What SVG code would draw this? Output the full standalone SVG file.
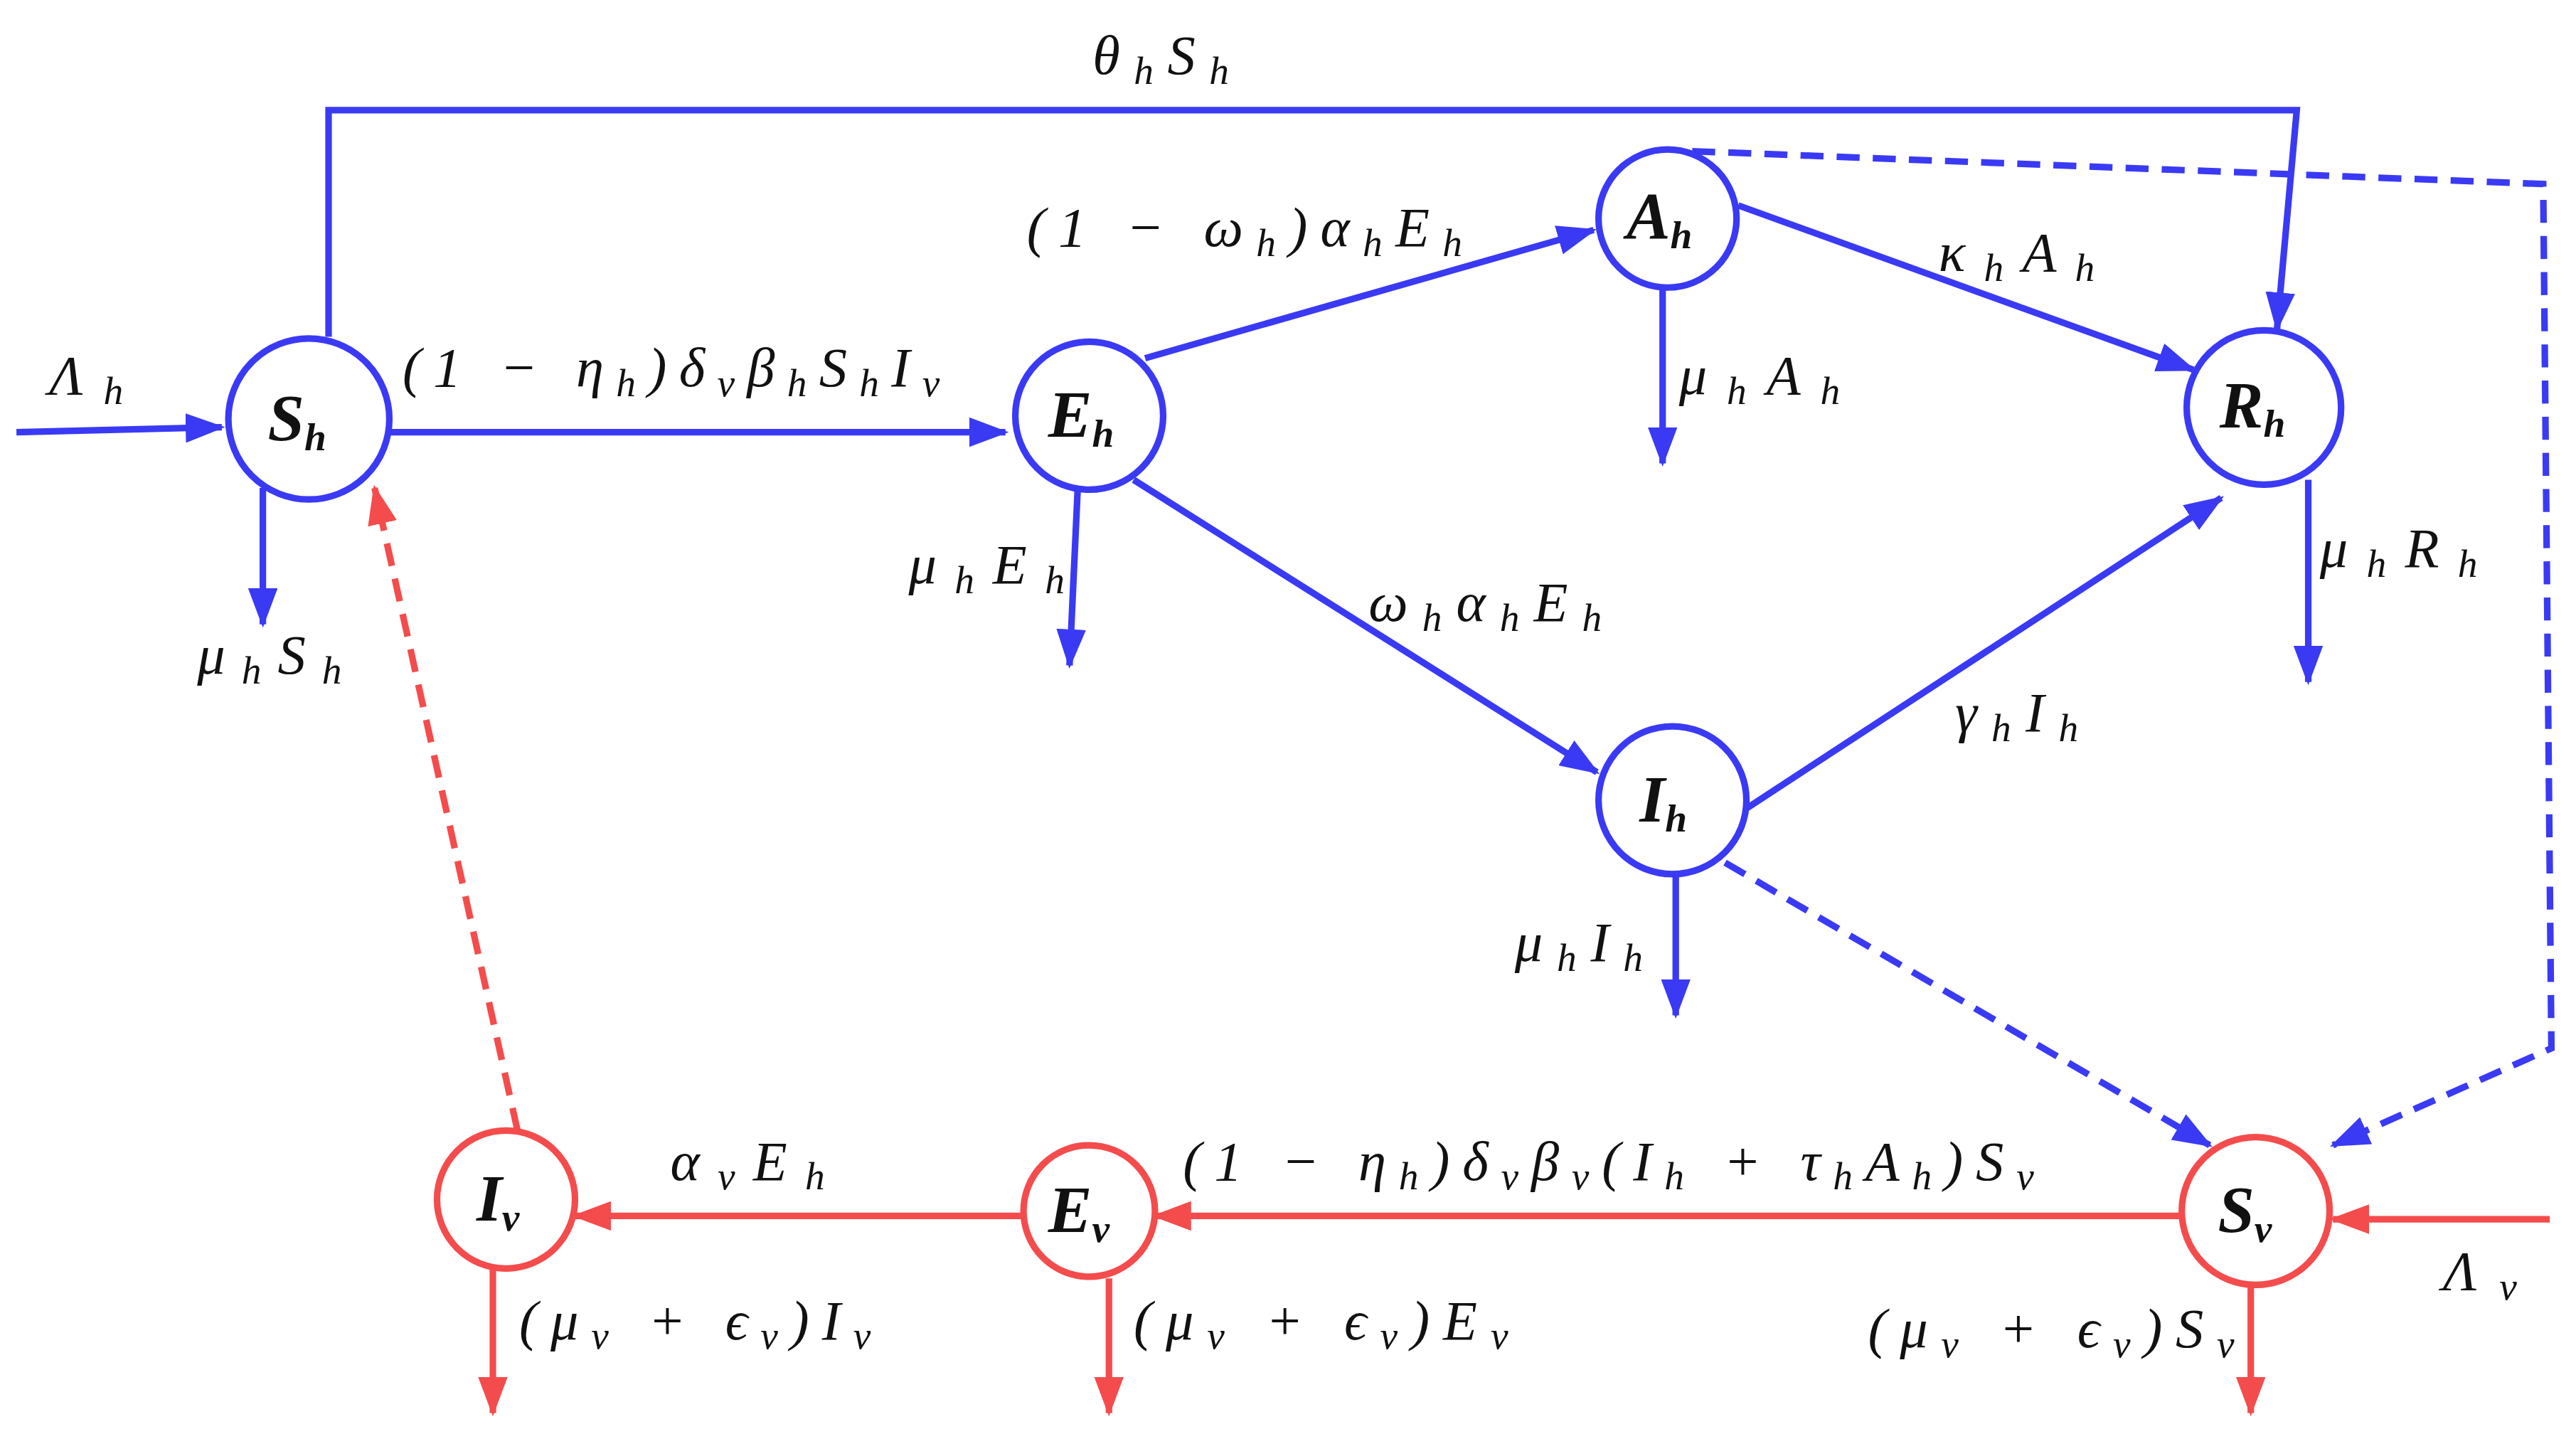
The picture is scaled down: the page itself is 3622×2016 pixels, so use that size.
<svg xmlns="http://www.w3.org/2000/svg" width="3622" height="2016" viewBox="0 0 3622 2016">
<style>
.b{stroke:#3a3af5;fill:none;stroke-width:4}
.r{stroke:#f44c4c;fill:none;stroke-width:4}
.d{stroke-dasharray:14 8}
.n{fill:#fff;stroke-width:4}
text{font-family:"Liberation Serif","DejaVu Serif",serif;font-style:italic;font-size:34px;fill:#111}
.nl{font-weight:bold;font-size:40px}
.s{font-size:24px}
</style>
<defs>
<marker id="ab" markerWidth="24" markerHeight="18" refX="22" refY="9" orient="auto" markerUnits="userSpaceOnUse"><path d="M0,0 L24,9 L0,18 Z" fill="#3a3af5"/></marker>
<marker id="ar" markerWidth="24" markerHeight="18" refX="22" refY="9" orient="auto" markerUnits="userSpaceOnUse"><path d="M0,0 L24,9 L0,18 Z" fill="#f44c4c"/></marker>
</defs>
<rect width="3622" height="2016" fill="#fff"/>
<g transform="scale(2.31)">
<g id="connectors">
<path class="b" marker-end="url(#ab)" d="M10,263 L135,260"/>
<path class="b" marker-end="url(#ab)" d="M238,263 L612,263"/>
<path class="b" marker-end="url(#ab)" d="M200,205 L200,67 L1398,67 L1386,200"/>
<path class="b" marker-end="url(#ab)" d="M160,297 L160,380"/>
<path class="b" marker-end="url(#ab)" d="M697,218 L970,140"/>
<path class="b" marker-end="url(#ab)" d="M656,297 L651,405"/>
<path class="b" marker-end="url(#ab)" d="M690,292 L972,470"/>
<path class="b" marker-end="url(#ab)" d="M1012,176 L1012,282"/>
<path class="b" marker-end="url(#ab)" d="M1058,125 L1335,225"/>
<path class="b" marker-end="url(#ab)" d="M1405,292 L1405,415"/>
<path class="b" marker-end="url(#ab)" d="M1063,492 L1352,303"/>
<path class="b" marker-end="url(#ab)" d="M1020,533 L1020,618"/>
<path class="b d" marker-end="url(#ab)" d="M1050,525 L1345,697"/>
<path class="b d" marker-end="url(#ab)" d="M1030,92 L1548,112 L1553,638 L1420,697"/>
<path class="r" marker-end="url(#ar)" d="M1328,740 L703,740"/>
<path class="r" marker-end="url(#ar)" d="M623,740 L350,740"/>
<path class="r d" marker-end="url(#ar)" d="M315,688 L228,297"/>
<path class="r" marker-end="url(#ar)" d="M1552,742 L1420,742"/>
<path class="r" marker-end="url(#ar)" d="M1370,782 L1370,860"/>
<path class="r" marker-end="url(#ar)" d="M675,778 L675,860"/>
<path class="r" marker-end="url(#ar)" d="M300,772 L300,860"/>
</g>
<g id="Sh"><circle class="n" cx="188" cy="255" r="49" stroke="#3a3af5"/><text class="nl" x="163" y="268">S<tspan class="s" dy="6">h</tspan></text></g>
<g id="Eh"><circle class="n" cx="663" cy="253" r="45" stroke="#3a3af5"/><text class="nl" x="638" y="266">E<tspan class="s" dy="6">h</tspan></text></g>
<g id="Ah"><circle class="n" cx="1015" cy="133" r="42" stroke="#3a3af5"/><text class="nl" x="990" y="145">A<tspan class="s" dy="6">h</tspan></text></g>
<g id="Rh"><circle class="n" cx="1378" cy="248" r="47" stroke="#3a3af5"/><text class="nl" x="1351" y="260">R<tspan class="s" dy="6">h</tspan></text></g>
<g id="Ih"><circle class="n" cx="1018" cy="487" r="45" stroke="#3a3af5"/><text class="nl" x="998" y="500">I<tspan class="s" dy="6">h</tspan></text></g>
<g id="Sv"><circle class="n" cx="1373" cy="737" r="45" stroke="#f44c4c"/><text class="nl" x="1350" y="750">S<tspan class="s" dy="6">v</tspan></text></g>
<g id="Ev"><circle class="n" cx="663" cy="737" r="40" stroke="#f44c4c"/><text class="nl" x="638" y="750">E<tspan class="s" dy="6">v</tspan></text></g>
<g id="Iv"><circle class="n" cx="308" cy="730" r="42" stroke="#f44c4c"/><text class="nl" x="290" y="743">I<tspan class="s" dy="6">v</tspan></text></g>
<g id="labels">
<text x="665" y="45" textLength="83">θ<tspan class="s" dy="6">h</tspan><tspan dy="-6">S</tspan><tspan class="s" dy="6">h</tspan></text>
<text x="30" y="240" textLength="45">Λ<tspan class="s" dy="6">h</tspan></text>
<text x="245" y="235" textLength="327">(1 − η<tspan class="s" dy="6">h</tspan><tspan dy="-6">)δ</tspan><tspan class="s" dy="6">v</tspan><tspan dy="-6">β</tspan><tspan class="s" dy="6">h</tspan><tspan dy="-6">S</tspan><tspan class="s" dy="6">h</tspan><tspan dy="-6">I</tspan><tspan class="s" dy="6">v</tspan></text>
<text x="625" y="150" textLength="265">(1 − ω<tspan class="s" dy="6">h</tspan><tspan dy="-6">)α</tspan><tspan class="s" dy="6">h</tspan><tspan dy="-6">E</tspan><tspan class="s" dy="6">h</tspan></text>
<text x="1180" y="165" textLength="95">κ<tspan class="s" dy="6">h</tspan><tspan dy="-6">A</tspan><tspan class="s" dy="6">h</tspan></text>
<text x="1022" y="240" textLength="98">μ<tspan class="s" dy="6">h</tspan><tspan dy="-6">A</tspan><tspan class="s" dy="6">h</tspan></text>
<text x="553" y="355" textLength="95">μ<tspan class="s" dy="6">h</tspan><tspan dy="-6">E</tspan><tspan class="s" dy="6">h</tspan></text>
<text x="120" y="410" textLength="88">μ<tspan class="s" dy="6">h</tspan><tspan dy="-6">S</tspan><tspan class="s" dy="6">h</tspan></text>
<text x="833" y="378" textLength="142">ω<tspan class="s" dy="6">h</tspan><tspan dy="-6">α</tspan><tspan class="s" dy="6">h</tspan><tspan dy="-6">E</tspan><tspan class="s" dy="6">h</tspan></text>
<text x="1412" y="345" textLength="96">μ<tspan class="s" dy="6">h</tspan><tspan dy="-6">R</tspan><tspan class="s" dy="6">h</tspan></text>
<text x="1190" y="445" textLength="75">γ<tspan class="s" dy="6">h</tspan><tspan dy="-6">I</tspan><tspan class="s" dy="6">h</tspan></text>
<text x="922" y="585" textLength="78">μ<tspan class="s" dy="6">h</tspan><tspan dy="-6">I</tspan><tspan class="s" dy="6">h</tspan></text>
<text x="408" y="718" textLength="94">α<tspan class="s" dy="6">v</tspan><tspan dy="-6">E</tspan><tspan class="s" dy="6">h</tspan></text>
<text x="720" y="718" textLength="518">(1 − η<tspan class="s" dy="6">h</tspan><tspan dy="-6">)δ</tspan><tspan class="s" dy="6">v</tspan><tspan dy="-6">β</tspan><tspan class="s" dy="6">v</tspan><tspan dy="-6">(I</tspan><tspan class="s" dy="6">h</tspan><tspan dy="-6"> + τ</tspan><tspan class="s" dy="6">h</tspan><tspan dy="-6">A</tspan><tspan class="s" dy="6">h</tspan><tspan dy="-6">)S</tspan><tspan class="s" dy="6">v</tspan></text>
<text x="1487" y="785" textLength="45">Λ<tspan class="s" dy="6">v</tspan></text>
<text x="316" y="815" textLength="214">(μ<tspan class="s" dy="6">v</tspan><tspan dy="-6"> + ϵ</tspan><tspan class="s" dy="6">v</tspan><tspan dy="-6">)I</tspan><tspan class="s" dy="6">v</tspan></text>
<text x="690" y="815" textLength="228">(μ<tspan class="s" dy="6">v</tspan><tspan dy="-6"> + ϵ</tspan><tspan class="s" dy="6">v</tspan><tspan dy="-6">)E</tspan><tspan class="s" dy="6">v</tspan></text>
<text x="1137" y="820" textLength="223">(μ<tspan class="s" dy="6">v</tspan><tspan dy="-6"> + ϵ</tspan><tspan class="s" dy="6">v</tspan><tspan dy="-6">)S</tspan><tspan class="s" dy="6">v</tspan></text>
</g>
</g>
</svg>
